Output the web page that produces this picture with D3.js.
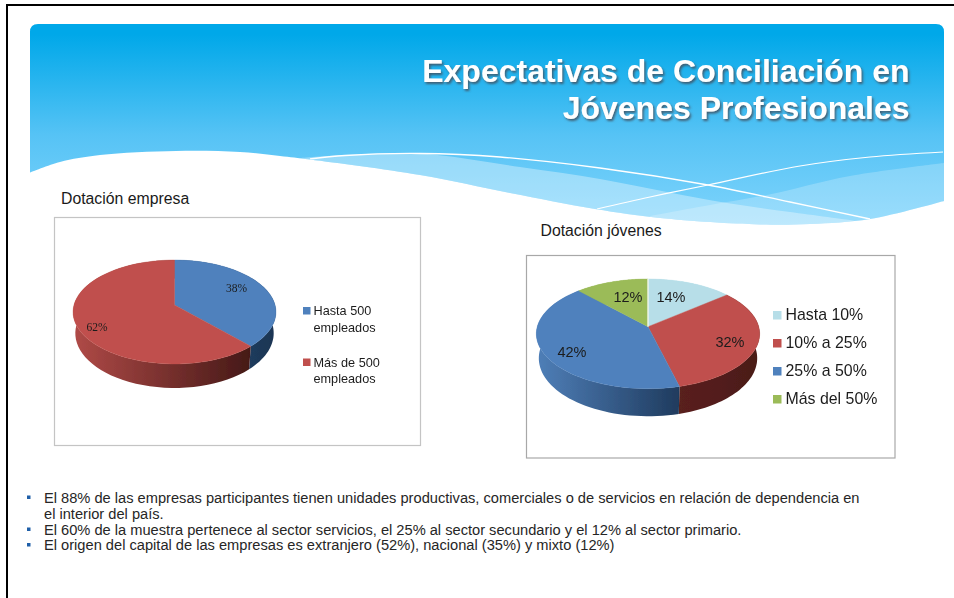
<!DOCTYPE html>
<html>
<head>
<meta charset="utf-8">
<script src="https://cdn.jsdelivr.net/npm/d3@7"></script>
<style>
  html, body { margin: 0; padding: 0; background: #fff; overflow: hidden; }
  text { font-family: "Liberation Sans", Arial, sans-serif; }
</style>
</head>
<body>
<div id="slide"></div>
<script>
// chart values
var empresaLabels = [["Hasta 500", "empleados"], ["Más de 500", "empleados"]];
var empresaValues = [38, 62];
var empresaColors = ["#4f81bd", "#c0504d"];

var jovenesLabels = [["Hasta 10%"], ["10% a 25%"], ["25% a 50%"], ["Más del 50%"]];
var jovenesValues = [14, 32, 42, 12];
var jovenesColors = ["#b7dee8", "#c0504d", "#4f81bd", "#9bbb59"];

var titleLines = ["Expectativas de Conciliación en", "Jóvenes Profesionales"];
var bulletLines = [
  {text: "El 88% de las empresas participantes tienen unidades productivas, comerciales o de servicios en relación de dependencia en", bullet: true, y: 502.5},
  {text: "el interior del país.", bullet: false, y: 518.5},
  {text: "El 60% de la muestra pertenece al sector servicios, el 25% al sector secundario y el 12% al sector primario.", bullet: true, y: 534.5},
  {text: "El origen del capital de las empresas es extranjero (52%), nacional (35%) y mixto (12%)", bullet: true, y: 550}
];

var width = 954, height = 598;

var svg = d3.select("#slide")
  .append("svg")
    .attr("width", width)
    .attr("height", height)
    .style("display", "block");

var defs = svg.append("defs");

// the source is a resampled bitmap, so everything is a bit soft
defs.append("filter").attr("id", "soft")
    .attr("x", "-2%").attr("y", "-2%").attr("width", "104%").attr("height", "104%")
  .append("feGaussianBlur").attr("stdDeviation", 0.35);

// page frame, only top and left are visible
svg.append("line").attr("x1", 6).attr("x2", width).attr("y1", 5).attr("y2", 5)
  .attr("stroke", "#000").attr("stroke-width", 2);
svg.append("line").attr("x1", 7).attr("x2", 7).attr("y1", 4).attr("y2", height)
  .attr("stroke", "#000").attr("stroke-width", 2);

// header band
var headerGrad = defs.append("linearGradient")
    .attr("id", "headerGrad")
    .attr("gradientUnits", "userSpaceOnUse")
    .attr("x1", 0).attr("x2", 0).attr("y1", 24).attr("y2", 226);
headerGrad.append("stop").attr("offset", 0.05).attr("stop-color", "#00a8e9");
headerGrad.append("stop").attr("offset", 0.55).attr("stop-color", "#56c3f5");
headerGrad.append("stop").attr("offset", 1).attr("stop-color", "#7fd4fc");

var smooth = d3.line().curve(d3.curveCatmullRom.alpha(0.5));

var waveBottom = [[30, 172.5], [60, 162], [100, 155], [176, 151], [240, 152], [280, 156], [310, 159.5], [420, 175], [510, 193], [595, 209], [660, 218], [760, 224.5], [810, 224], [870, 219], [944, 201]];
var lineA = [[310, 159], [345, 155.5], [420, 153.5], [500, 157], [600, 168], [708, 185], [790, 202], [870, 219]];
var lineB = [[597, 209], [650, 197], [708, 185], [800, 166], [870, 157], [943, 152]];
var bandC = [[300, 158], [345, 155], [420, 153.5], [520, 167], [600, 179], [667, 192], [727, 203], [790, 212], [850, 220]];
var bandD = [[650, 216], [710, 205], [767, 195], [850, 176], [944, 163]];

var headerPath = "M30,172.5 L30,32 Q30,24 38,24 L936,24 Q944,24 944,32 L944,201 " +
  smooth(waveBottom.slice().reverse()).replace(/^M[^CL]*/, "L944,201") + "Z";

svg.append("path")
  .attr("d", headerPath)
  .attr("fill", "url(#headerGrad)");

defs.append("clipPath").attr("id", "headerClip")
  .append("path").attr("d", headerPath);

var waves = svg.append("g").attr("clip-path", "url(#headerClip)");

// lighter bands sit on the wave bottom
waves.append("path")
  .attr("d", smooth(bandC) + "L944,240 L300,240 Z")
  .attr("fill", "#fff").attr("opacity", 0.35);
waves.append("path")
  .attr("d", smooth(bandD) + "L944,240 L650,240 Z")
  .attr("fill", "#fff").attr("opacity", 0.22);
waves.append("path")
  .attr("d", smooth(lineA))
  .attr("fill", "none").attr("stroke", "#fff").attr("stroke-width", 1.3);
waves.append("path")
  .attr("d", smooth(lineB))
  .attr("fill", "none").attr("stroke", "#fff").attr("stroke-width", 1.2);

// title
var titleShadow = defs.append("filter").attr("id", "titleShadow")
    .attr("x", "-5%").attr("y", "-20%").attr("width", "110%").attr("height", "150%");
titleShadow.append("feGaussianBlur")
  .attr("in", "SourceGraphic").attr("stdDeviation", 0.4).attr("result", "soft");
titleShadow.append("feDropShadow")
  .attr("in", "soft")
  .attr("dx", 1.5).attr("dy", 2)
  .attr("stdDeviation", 1)
  .attr("flood-color", "#3f5566")
  .attr("flood-opacity", 0.9);

svg.append("g").selectAll("text")
  .data(titleLines)
  .enter()
  .append("text")
    .attr("x", 909.5)
    .attr("y", function(d, i) { return 82 + i * 37; })
    .attr("text-anchor", "end")
    .attr("font-size", "32px")
    .attr("font-weight", "bold")
    .attr("fill", "#fff")
    .attr("filter", "url(#titleShadow)")
    .text(function(d) { return d; });

// chart headings
svg.append("text").attr("x", 61).attr("y", 204)
  .attr("font-size", "15.8px").attr("fill", "#1a1a1a").text("Dotación empresa");
svg.append("text").attr("x", 540.5).attr("y", 236)
  .attr("font-size", "15.8px").attr("fill", "#1a1a1a").text("Dotación jóvenes");

// pie with a tilted perspective, k is how much the near side grows
function drawPie(opt) {
  var g = svg.append("g").attr("filter", "url(#soft)");

  g.append("rect")
    .attr("x", opt.box[0] + 0.5)
    .attr("y", opt.box[1] + 0.5)
    .attr("width", opt.box[2])
    .attr("height", opt.box[3])
    .attr("fill", "#fff")
    .attr("stroke", opt.boxColor)
    .attr("stroke-width", 1.2);

  var arcs = d3.pie().sort(null).value(function(d) { return d; })(opt.values);

  function top(a, r) {
    var X = r * Math.sin(a), Y = -r * Math.cos(a), w = 1 + opt.k * Y;
    return [opt.cx + opt.rx * X / w, opt.cy + opt.ry * Y / w];
  }
  function bottom(a) {
    var p = top(a, 1), Y = -Math.cos(a);
    return [opt.cx + (p[0] - opt.cx) * 0.978, p[1] + opt.depth / (1 + opt.k * Y)];
  }
  function rim(d, fn) {
    return d3.range(0, 61).map(function(i) {
      return fn(d.startAngle + (d.endAngle - d.startAngle) * i / 60);
    });
  }
  function rimTop(a) { return top(a, 1); }

  // side walls first, the top covers the hidden part
  arcs.forEach(function(d, i) {
    var pts = rim(d, rimTop).concat(rim(d, bottom).reverse());
    var id = opt.id + "Wall" + i;
    var xs = d3.extent(pts, function(p) { return p[0]; });
    var wall = defs.append("linearGradient")
        .attr("id", id)
        .attr("gradientUnits", "userSpaceOnUse")
        .attr("x1", xs[0]).attr("x2", xs[1]).attr("y1", 0).attr("y2", 0);
    wall.append("stop").attr("offset", 0).attr("stop-color", opt.wallColors[i][0]);
    wall.append("stop").attr("offset", 1).attr("stop-color", opt.wallColors[i][1]);
    g.append("path")
      .attr("d", d3.line()(pts) + "Z")
      .attr("fill", "url(#" + id + ")");
  });

  g.selectAll("path.slice")
    .data(arcs)
    .enter()
    .append("path")
      .attr("class", "slice")
      .attr("d", function(d) {
        return d3.line()([top(0, 0)].concat(rim(d, rimTop))) + "Z";
      })
      .attr("fill", function(d, i) { return opt.colors[i]; })
      .attr("stroke", function(d, i) { return opt.colors[i]; })
      .attr("stroke-width", 0.4);

  if (opt.seam) {
    g.append("line")
      .attr("x1", top(0, 0)[0]).attr("y1", top(0, 0)[1])
      .attr("x2", top(0, 1)[0]).attr("y2", top(0, 1)[1])
      .attr("stroke", "#fff").attr("stroke-width", 1.2);
  }

  // percent labels
  g.selectAll("text.pct")
    .data(opt.values)
    .enter()
    .append("text")
      .attr("class", "pct")
      .attr("x", function(d, i) { return opt.labelAt[i][0]; })
      .attr("y", function(d, i) { return opt.labelAt[i][1]; })
      .attr("text-anchor", "middle")
      .style("font-family", opt.labelFont)
      .attr("font-size", opt.labelSize)
      .attr("fill", "#1c1c1c")
      .text(function(d) { return d + "%"; });

  // legend
  var legend = g.selectAll("g.entry")
    .data(opt.labels)
    .enter()
    .append("g")
      .attr("class", "entry")
      .attr("transform", function(d, i) {
        return "translate(" + opt.legendX + "," + (opt.legendY + i * opt.legendStep) + ")";
      });

  legend.append("rect")
    .attr("x", opt.swatchX)
    .attr("y", -opt.swatch - 0.5)
    .attr("width", opt.swatch)
    .attr("height", opt.swatch)
    .attr("fill", function(d, i) { return opt.colors[i]; });

  legend.selectAll("text")
    .data(function(d) { return d; })
    .enter()
    .append("text")
      .attr("y", function(d, j) { return j * 16.5; })
      .attr("font-size", opt.legendSize)
      .attr("fill", "#1c1c1c")
      .text(function(d) { return d; });
}

drawPie({
  id: "empresa",
  values: empresaValues, labels: empresaLabels, colors: empresaColors,
  wallColors: [["#2a4d78", "#1c3553"], ["#b04a47", "#451917"]],
  box: [54, 217, 366, 228], boxColor: "#c4c4c4",
  cx: 174.5, cy: 305, rx: 100.5, ry: 51, k: -0.1346, depth: 20.8,
  labelAt: [[236.5, 291.5], [97, 331]],
  labelFont: "'Liberation Serif', serif", labelSize: "11.5px",
  legendX: 313.5, legendY: 315, legendStep: 51.5, legendSize: "12.7px",
  swatch: 7.5, swatchX: -10.5
});

drawPie({
  id: "jovenes",
  values: jovenesValues, labels: jovenesLabels, colors: jovenesColors,
  wallColors: [["#b7dee8", "#b7dee8"], ["#5a201e", "#4a1a18"], ["#4f7fb8", "#1f3b5e"], ["#9bbb59", "#9bbb59"]],
  box: [526, 255, 368.5, 202.5], boxColor: "#a8a8a8",
  cx: 648, cy: 326.7, rx: 110.7, ry: 53.9, k: -0.13, depth: 24,
  labelAt: [[671, 302], [730, 347], [572, 357], [628, 302]],
  labelFont: "'Liberation Sans', Arial, sans-serif", labelSize: "14.5px",
  legendX: 785.5, legendY: 320, legendStep: 28, legendSize: "15.9px",
  swatch: 8.5, swatchX: -12.5,
  seam: true
});

// bullet list
var notes = svg.append("g").selectAll("g")
  .data(bulletLines)
  .enter()
  .append("g");

notes.append("text")
  .attr("x", 44)
  .attr("y", function(d) { return d.y; })
  .attr("font-size", "14.65px")
  .attr("fill", "#262626")
  .text(function(d) { return d.text; });

notes.filter(function(d) { return d.bullet; })
  .append("rect")
    .attr("x", 27)
    .attr("y", function(d) { return d.y - 7; })
    .attr("width", 3.5)
    .attr("height", 3.5)
    .attr("fill", "#1f5fa8");
</script>
</body>
</html>
